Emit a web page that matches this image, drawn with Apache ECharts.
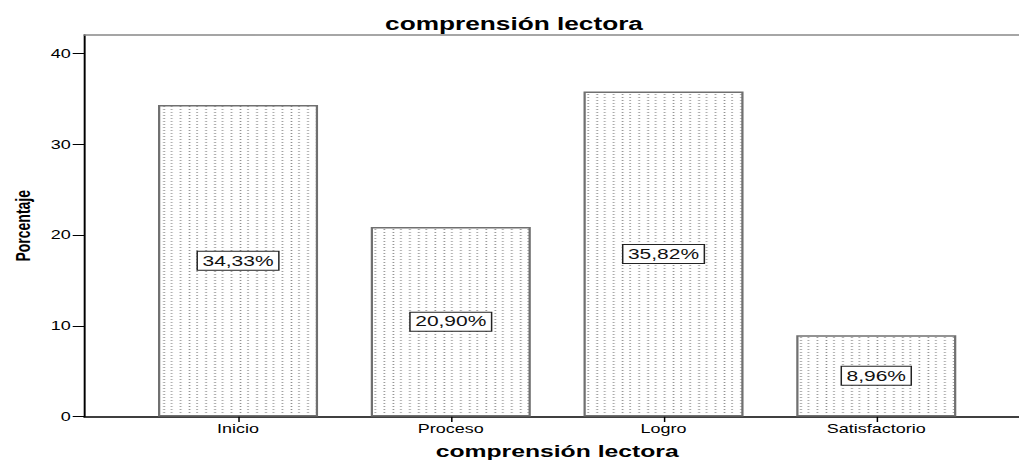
<!DOCTYPE html>
<html>
<head>
<meta charset="utf-8">
<script src="https://cdn.jsdelivr.net/npm/echarts@6/dist/echarts.min.js"></script>
<style>
html,body{margin:0;padding:0;background:#fff;overflow:hidden;width:1019px;height:465px;}
#c{width:700px;height:465px;transform:scaleX(1.49853);transform-origin:0 0;}
</style>
</head>
<body>
<div id="c"></div>
<script>
// ---- data ----
const categories = ['Inicio', 'Proceso', 'Logro', 'Satisfactorio'];
const percentages = [34.33, 20.90, 35.82, 8.96];
const yTicks = [0, 10, 20, 30, 40];
const chartTitle = 'comprensión lectora';
const xName = 'comprensión lectora';
const yName = 'Porcentaje';

// dotted fill pattern
function makePattern() {
  const cv = document.createElement('canvas');
  cv.width = 17; cv.height = 3;
  const ctx = cv.getContext('2d');
  ctx.fillStyle = '#fff';
  ctx.fillRect(0, 0, 17, 3);
  ctx.fillStyle = '#8c8c8c';
  [1, 7, 12].forEach(x => ctx.fillRect(x, 1, 1, 1));
  return cv.toDataURL();
}

const FONT = 'Liberation Sans, Arial, sans-serif';
const catIdx = categories.map((c, i) => i);
const chart = echarts.init(document.getElementById('c'), null, {renderer: 'svg'});
chart.setOption({
  animation: false,
  backgroundColor: '#fff',
  textStyle: {fontFamily: FONT},
  title: {
    text: chartTitle, left: 257, top: 15, padding: 0,
    textStyle: {fontFamily: FONT, fontWeight: 'bold', fontSize: 17.5, color: '#000'}
  },
  grid: {
    left: 55.4, right: 12.6, top: 35, bottom: 42.7, show: false
  },
  xAxis: [{
    type: 'value', min: -0.723, max: 3.723,
    axisLine: {show: true, onZero: false, lineStyle: {color: '#000', width: 1.5}},
    axisTick: {show: true, customValues: catIdx, length: 5.5, lineStyle: {color: '#000', width: 1}},
    axisLabel: {customValues: catIdx, formatter: v => categories[Math.round(v)], margin: 6,
      fontSize: 12, color: '#000', fontFamily: FONT},
    splitLine: {show: false},
    name: xName, nameLocation: 'middle', nameGap: 26.5,
    nameTextStyle: {fontFamily: FONT, fontWeight: 'bold', fontSize: 16.5, color: '#000'}
  }, {
    type: 'value', position: 'top', min: -0.723, max: 3.723,
    axisLine: {show: true, onZero: false, lineStyle: {color: '#888', width: 1.5}},
    axisTick: {show: false}, axisLabel: {show: false}, splitLine: {show: false}
  }],
  yAxis: {
    type: 'value', min: 0, max: 42.06, interval: 10,
    axisLine: {show: true, onZero: false, lineStyle: {color: '#000', width: 1.3}},
    axisTick: {show: true, customValues: yTicks, length: 7.7, lineStyle: {color: '#000', width: 1}},
    axisLabel: {customValues: yTicks, margin: 9, fontSize: 12, color: '#000', fontFamily: FONT},
    splitLine: {show: false},
    name: yName, nameLocation: 'middle', nameGap: 34.2,
    nameTextStyle: {fontFamily: FONT, fontWeight: 'bold', fontSize: 14, color: '#000'}
  },
  series: [{
    type: 'bar',
    xAxisIndex: 0,
    data: percentages.map((v, i) => [i, v]),
    barWidth: 106.8,
    itemStyle: {
      color: {image: makePattern(), repeat: 'repeat'},
      borderColor: '#707070', borderWidth: 1.5
    },
    label: {
      show: true, position: 'inside',
      formatter: p => p.value[1].toFixed(2).replace('.', ',') + '%',
      fontFamily: FONT, fontSize: 14, color: '#111',
      backgroundColor: '#fff', borderColor: '#222', borderWidth: 1,
      padding: [2, 3, 2, 3]
    }
  }]
});
</script>
</body>
</html>
